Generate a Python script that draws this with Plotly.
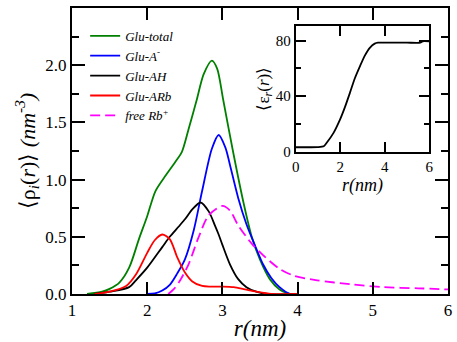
import plotly.graph_objects as go

# ---- main panel data ----
total_x = [1.2, 1.4, 1.5, 1.63, 1.76, 1.89, 2.0, 2.11, 2.25, 2.38, 2.46, 2.55, 2.66, 2.75, 2.86, 2.93, 3.01, 3.14, 3.28, 3.39, 3.5, 3.63, 3.76, 3.9, 4.0]
total_y = [0.0, 0.02, 0.045, 0.1, 0.23, 0.48, 0.68, 0.9, 1.04, 1.16, 1.24, 1.44, 1.7, 1.92, 2.04, 1.97, 1.7, 1.25, 0.8, 0.5, 0.3, 0.13, 0.04, 0.0, 0.0]

a_x = [2.0, 2.1, 2.2, 2.3, 2.4, 2.5, 2.62, 2.73, 2.86, 2.95, 3.04, 3.1, 3.21, 3.32, 3.43, 3.54, 3.65, 3.76, 3.9, 4.0]
a_y = [0.0, 0.005, 0.03, 0.08, 0.18, 0.3, 0.56, 0.9, 1.27, 1.39, 1.28, 1.13, 0.84, 0.61, 0.43, 0.26, 0.14, 0.06, 0.0, 0.0]

ah_x = [1.3, 1.5, 1.76, 1.85, 2.0, 2.2, 2.3, 2.42, 2.51, 2.6, 2.71, 2.82, 2.9, 2.95, 3.0, 3.1, 3.21, 3.32, 3.45, 3.6, 4.0]
ah_y = [0.0, 0.02, 0.06, 0.12, 0.23, 0.41, 0.5, 0.59, 0.66, 0.74, 0.8, 0.72, 0.6, 0.52, 0.43, 0.26, 0.13, 0.06, 0.02, 0.0, 0.0]

arb_x = [1.3, 1.5, 1.72, 1.85, 2.0, 2.1, 2.2, 2.3, 2.4, 2.5, 2.6, 2.73, 2.85, 3.0, 3.15, 3.3, 3.45, 3.65, 4.0]
arb_y = [0.0, 0.02, 0.07, 0.17, 0.36, 0.47, 0.52, 0.48, 0.32, 0.19, 0.11, 0.07, 0.065, 0.065, 0.06, 0.04, 0.02, 0.0, 0.0]

rb_x = [2.28, 2.35, 2.42, 2.55, 2.68, 2.82, 3.0, 3.1, 3.21, 3.39, 3.54, 3.76, 3.95, 4.26, 4.7, 5.14, 5.6, 6.0]
rb_y = [0.0, 0.04, 0.1, 0.26, 0.49, 0.69, 0.77, 0.73, 0.6, 0.44, 0.34, 0.22, 0.16, 0.12, 0.085, 0.06, 0.05, 0.04]

# ---- inset data ----
eps_x = [0.0, 0.6, 1.0, 1.26, 1.4, 1.7, 2.0, 2.2, 2.44, 2.65, 2.89, 3.1, 3.33, 3.55, 3.7, 4.0, 5.0, 5.6, 5.7, 6.0]
eps_y = [3.1, 3.1, 3.2, 3.8, 6.5, 13.5, 23.4, 31.5, 42.5, 52.5, 61.6, 69.0, 74.8, 77.8, 78.5, 78.5, 78.5, 78.5, 79.5, 79.5]

FONT = "Liberation Serif"
fig = go.Figure()
series = [
    ("<i>Glu-total</i>", total_x, total_y, "#008000", "solid"),
    ("<i>Glu-A<sup>-</sup></i>", a_x, a_y, "#0000ff", "solid"),
    ("<i>Glu-AH</i>", ah_x, ah_y, "#000000", "solid"),
    ("<i>Glu-ARb</i>", arb_x, arb_y, "#ff0000", "solid"),
    ("<i>free Rb<sup>+</sup></i>", rb_x, rb_y, "#ff00ff", "10px,5px"),
]
for name, xs, ys, col, dash in series:
    fig.add_trace(go.Scatter(x=xs, y=ys, mode="lines", name=name,
                             line=dict(color=col, width=1.8, shape="spline", smoothing=0.8, dash=dash),
                             xaxis="x", yaxis="y"))

fig.add_trace(go.Scatter(x=eps_x, y=eps_y, mode="lines", showlegend=False,
                         line=dict(color="black", width=1.8, shape="spline", smoothing=0.6),
                         xaxis="x2", yaxis="y2"))


def ax(size, **kw):
    d = dict(showline=True, linecolor="black", linewidth=2, mirror="allticks",
             ticks="inside", tickcolor="black", tickwidth=2, showgrid=False,
             tickfont=dict(family=FONT, size=size, color="black"))
    d.update(kw)
    return d


fig.update_layout(
    width=457, height=342,
    margin=dict(l=72, r=5, t=8, b=45),
    paper_bgcolor="white", plot_bgcolor="white",
    font=dict(family=FONT, color="black"),
    showlegend=True,
    legend=dict(x=0.035, y=0.955, xanchor="left", yanchor="top", bgcolor="rgba(0,0,0,0)",
                font=dict(family=FONT, size=13, color="black")),
    xaxis=ax(17, range=[1, 6], dtick=1, ticklen=12,
             title=dict(text="<i>r(nm)</i>", font=dict(family=FONT, size=23), standoff=0)),
    yaxis=ax(17, range=[0, 2.5], dtick=0.5, tickformat=".1f", ticklen=13,
             minor=dict(dtick=0.25, ticks="inside", ticklen=7, tickwidth=2, tickcolor="black"),
             title=dict(text="⟨ρ<sub><i>i</i></sub>(<i>r</i>)⟩ <i>(nm</i><sup><i>-3</i></sup><i>)</i>",
                        font=dict(family=FONT, size=22), standoff=4)),
    xaxis2=ax(15, range=[0, 6], dtick=2, ticklen=10, domain=[0.595, 0.95], anchor="y2",
              title=dict(text="<i>r(nm)</i>", font=dict(family=FONT, size=18), standoff=0)),
    yaxis2=ax(15, range=[0, 90.7], dtick=40, ticklen=10, domain=[0.498, 0.938], anchor="x2",
              minor=dict(dtick=20, ticks="inside", ticklen=5, tickwidth=2, tickcolor="black"),
              title=dict(text="⟨ε<sub><i>r</i></sub>(<i>r</i>)⟩", font=dict(family=FONT, size=17), standoff=2)),
)

fig.write_html("out.html", post_script="document.body.style.margin='0';",
               config={"displayModeBar": False})
